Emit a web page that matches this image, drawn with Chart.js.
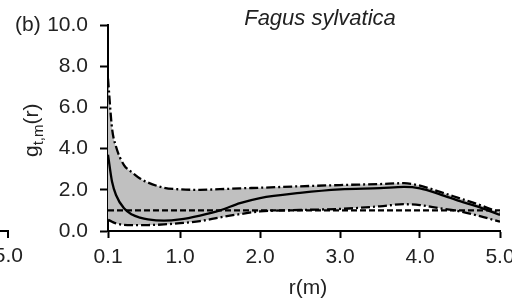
<!DOCTYPE html>
<html>
<head>
<meta charset="utf-8">
<script src="https://cdn.jsdelivr.net/npm/chart.js@4.4.1/dist/chart.umd.min.js"></script>
<style>
  html, body { margin: 0; padding: 0; background: #fff; }
  #wrap { width: 512px; height: 300px; }
</style>
</head>
<body>
<div id="wrap"><canvas id="myChart" width="512" height="300"></canvas></div>
<script>
// distance classes r (m)
const r = [0.1, 0.15, 0.2, 0.3, 0.4, 0.5, 0.6, 0.8, 1.0, 1.25, 1.5, 1.75, 2.0, 2.5, 3.0, 3.5, 3.8, 4.0, 4.25, 4.5, 4.75, 5.0];
// observed g(r)
const observed = [3.7, 2.4, 1.75, 1.1, 0.8, 0.65, 0.56, 0.5, 0.56, 0.75, 1.0, 1.35, 1.6, 1.85, 2.02, 2.08, 2.14, 2.07, 1.78, 1.45, 1.15, 0.78];
// simulation envelopes
const upper = [7.4, 5.0, 4.1, 3.2, 2.85, 2.55, 2.35, 2.1, 2.02, 2.0, 2.03, 2.07, 2.1, 2.17, 2.23, 2.28, 2.32, 2.2, 1.9, 1.58, 1.26, 0.88];
const lower = [0.55, 0.45, 0.37, 0.3, 0.29, 0.29, 0.29, 0.32, 0.38, 0.48, 0.66, 0.82, 0.95, 1.02, 1.07, 1.2, 1.3, 1.26, 1.1, 0.95, 0.72, 0.45];
// expected under independence
const expected = r.map(() => 1.0);

const xTicks = [0.1, 1.0, 2.0, 3.0, 4.0, 5.0];
const yTicks = [0, 2, 4, 6, 8, 10];

const pts = arr => arr.map((v, i) => ({ x: r[i], y: v }));
const FONT = '"Liberation Sans", Arial, sans-serif';

// extra labels: panel letter, title, axis titles, neighbour panel edge
const labels = {
  id: 'labels',
  afterDraw(chart) {
    const { ctx } = chart;
    ctx.save();
    ctx.fillStyle = '#222';
    ctx.font = '21px ' + FONT;
    ctx.textAlign = 'left';
    ctx.textBaseline = 'middle';
    ctx.fillText('(b)', 15, 25);

    ctx.font = 'italic 22px ' + FONT;
    ctx.textAlign = 'center';
    ctx.textBaseline = 'alphabetic';
    ctx.fillText('Fagus sylvatica', 320, 25);

    ctx.font = '21px ' + FONT;
    ctx.fillText('r(m)', 308, 294);

    // y title g_{t,m}(r)
    ctx.save();
    ctx.translate(38, 157);
    ctx.rotate(-Math.PI / 2);
    ctx.textAlign = 'left';
    ctx.font = '21px ' + FONT;
    ctx.fillText('g', 0, 0);
    let w = ctx.measureText('g').width;
    ctx.font = '15px ' + FONT;
    ctx.fillText('t,m', w, 5);
    w += ctx.measureText('t,m').width;
    ctx.font = '21px ' + FONT;
    ctx.fillText('(r)', w, 0);
    ctx.restore();

    // edge of panel (a)
    ctx.font = '21px ' + FONT;
    ctx.textAlign = 'right';
    ctx.textBaseline = 'top';
    ctx.fillText('5.0', 23, 246);
    ctx.strokeStyle = '#000';
    ctx.lineWidth = 2;
    ctx.beginPath();
    ctx.moveTo(0, 231);
    ctx.lineTo(8, 231);
    ctx.lineTo(8, 238);
    ctx.stroke();
    ctx.restore();
  }
};

const config = {
  type: 'line',
  data: {
    datasets: [
      {
        label: 'observed',
        data: pts(observed),
        borderColor: '#000',
        borderWidth: 2.3,
        pointRadius: 0,
        cubicInterpolationMode: 'monotone',
        fill: false
      },
      {
        label: 'expected',
        data: pts(expected),
        borderColor: '#000',
        borderWidth: 2.3,
        borderDash: [6, 3],
        pointRadius: 0,
        fill: false
      },
      {
        label: 'upper',
        data: pts(upper),
        borderColor: '#000',
        borderWidth: 2.3,
        borderDash: [9, 3, 2, 3],
        pointRadius: 0,
        cubicInterpolationMode: 'monotone',
        backgroundColor: '#c0c0c0',
        fill: 3
      },
      {
        label: 'lower',
        data: pts(lower),
        borderColor: '#000',
        borderWidth: 2.3,
        borderDash: [9, 3, 2, 3],
        pointRadius: 0,
        cubicInterpolationMode: 'monotone',
        fill: false
      }
    ]
  },
  options: {
    responsive: false,
    animation: false,
    events: [],
    layout: { padding: { left: 0, top: 25, right: 12, bottom: 0 } },
    scales: {
      x: {
        type: 'linear',
        min: 0.1,
        max: 5.0,
        afterBuildTicks: s => { s.ticks = xTicks.map(v => ({ value: v })); },
        afterFit: s => { s.height = 69; s.paddingLeft = 0; s.paddingRight = 0; },
        grid: { drawOnChartArea: false, drawTicks: true, tickLength: 7, tickColor: '#000', tickWidth: 2 },
        border: { color: '#000', width: 2 },
        ticks: {
          autoSkip: false,
          maxRotation: 0,
          padding: 7,
          color: '#222',
          font: { family: FONT, size: 21 },
          callback: v => v.toFixed(1)
        }
      },
      y: {
        min: 0,
        max: 10,
        afterBuildTicks: s => { s.ticks = yTicks.map(v => ({ value: v })); },
        afterFit: s => { s.width = 108; s.paddingTop = 0; s.paddingBottom = 0; },
        grid: { drawOnChartArea: false, drawTicks: true, tickLength: 8, tickColor: '#000', tickWidth: 2 },
        border: { color: '#000', width: 2 },
        ticks: {
          padding: 12,
          color: '#222',
          font: { family: FONT, size: 21 },
          callback: v => v.toFixed(1)
        }
      }
    },
    plugins: {
      legend: { display: false },
      tooltip: { enabled: false },
      filler: { drawTime: 'beforeDatasetsDraw' }
    }
  },
  plugins: [labels]
};

const myChart = new Chart(document.getElementById('myChart'), config);
</script>
</body>
</html>
